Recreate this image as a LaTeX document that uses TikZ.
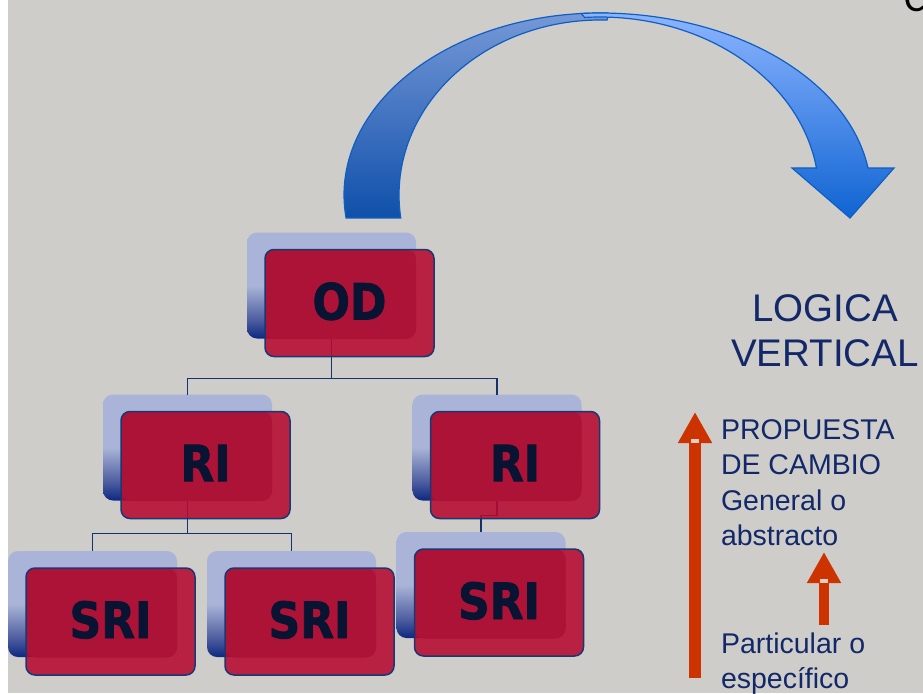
\documentclass[tikz,border=0pt]{standalone}
\usepackage{fontspec}
\usetikzlibrary{arrows.meta}
\newfontfamily\boxfont[FakeStretch=0.88, FakeBold=1.6]{DejaVu Sans}
\newfontfamily\lblfont{Liberation Sans}
\newfontfamily\titlefont{Carlito}

\definecolor{bggray}{RGB}{207,205,201}
\definecolor{backlight}{RGB}{170,180,216}
\definecolor{backmid}{RGB}{78,94,160}
\definecolor{backdark}{RGB}{14,40,128}
\definecolor{frontred}{RGB}{183,10,48}
\definecolor{overlapred}{RGB}{173,18,55}
\definecolor{frontline}{RGB}{25,55,115}
\definecolor{boxtext}{RGB}{8,20,50}
\definecolor{linkblue}{RGB}{20,50,110}
\definecolor{lbltext}{RGB}{18,40,105}
\definecolor{uparrowred}{RGB}{204,51,0}
\definecolor{notchgray}{RGB}{222,206,198}
\definecolor{bandline}{RGB}{15,95,195}
\definecolor{lbandtop}{RGB}{118,152,215}
\definecolor{lbandbot}{RGB}{15,80,170}
\definecolor{rbandtop}{RGB}{140,180,255}
\definecolor{rbandbot}{RGB}{15,100,210}

\pgfdeclareverticalshading{backfade}{100bp}{color(0bp)=(backdark); color(25bp)=(backdark); color(34bp)=(backmid); color(50bp)=(backlight); color(100bp)=(backlight)}

\tikzset{
  backbox/.style={shade, shading=backfade, rounded corners=10pt,
    minimum width=169pt, minimum height=106pt, inner sep=0pt, outer sep=0pt},
  frontbox/.style={rounded corners=9pt, draw=frontline, line width=1.5pt,
    fill=frontred, fill opacity=0.88, text opacity=1, text=boxtext,
    minimum width=169pt, minimum height=107pt, inner sep=0pt, outer sep=0pt,
    text depth=4pt,
    font=\boxfont\bfseries\fontsize{50}{60}\selectfont,
    path picture={\fill[overlapred, fill opacity=1, rounded corners=10pt]
      (path picture bounding box.north west) rectangle
      ([xshift=-18pt,yshift=17.5pt]path picture bounding box.south east);}},
  link/.style={draw=linkblue, line width=1.5pt},
  lbl/.style={text=lbltext, inner sep=0pt, outer sep=0pt},
  uparrow/.style={draw=uparrowred, line cap=butt},
  lband/.style={top color=lbandtop, bottom color=lbandbot, draw=bandline, line width=1.2pt},
  rband/.style={top color=rbandtop, bottom color=rbandbot, draw=bandline, line width=1.2pt, line join=miter},
}

\begin{document}
\begin{tikzpicture}[x=1pt, y=-1pt]
	%%%%% BACKGROUND %%%%%
	\useasboundingbox (0,0) rectangle (923,693);
	\fill[white] (0,0) rectangle (923,693);
	\fill[bggray] (8,0) rectangle (923,693);
	
	% cut title letter
	\node[font=\titlefont\fontsize{40}{48}\selectfont, anchor=base west, inner sep=0pt] (ttl) at (904,12) {C};
	
	%%%%% CURVED ARROW %%%%%
	\draw[lband] plot[domain=172.74:272, samples=60] ({600+256*cos(\x)}, {195+182*sin(\x)})
		-- plot[domain=272:172.45, samples=60] ({600+201*cos(\x)}, {195+175*sin(\x)}) -- cycle;
	\draw[rband] plot[domain=266:351.47, samples=60] ({600+271*cos(\x)}, {195+182*sin(\x)})
		-- (894,168) -- (850,218) -- (792,168)
		-- plot[domain=351.27:266, samples=60] ({600+219*cos(\x)}, {195+178*sin(\x)}) -- cycle;
	
	%%%%% TREE %%%%%
	\node[backbox] (odb) at (331.5,285.5) {};
	\node[backbox] (rilb) at (187.5,447.5) {};
	\node[backbox] (rirb) at (497,447.5) {};
	\node[backbox] (sri1b) at (92.5,604) {};
	\node[backbox] (sri2b) at (291.5,604) {};
	\node[backbox] (sri3b) at (481,585) {};
	
	\draw[link] (odb.south) -- ++(0,40) -| (rilb.north);
	\draw[link] (odb.south) -- ++(0,40) -| (rirb.north);
	\draw[link] (rilb.south) -- ++(0,33) -| (sri1b.north);
	\draw[link] (rilb.south) -- ++(0,33) -| (sri2b.north);
	\draw[link] (rirb.south) -- ++(0,15) -| (sri3b.north);
	
	\node[frontbox] (od) at (349.5,303) {OD};
	\node[frontbox] (ril) at (205.5,465) {RI};
	\node[frontbox] (rir) at (515,465) {RI};
	\node[frontbox] (sri1) at (110.5,621.5) {SRI};
	\node[frontbox] (sri2) at (309.5,621.5) {SRI};
	\node[frontbox] (sri3) at (499,602.5) {SRI};
	
	%%%%% RIGHT SIDE %%%%%
	\node[lbl, font=\lblfont\fontsize{38.5}{45}\selectfont, align=center, anchor=north] (logica) at (825,295) {LOGICA\\VERTICAL};
	\node[lbl, font=\lblfont\fontsize{28.5}{35.5}\selectfont, align=left, anchor=north west] (propuesta) at (721,419.5) {PROPUESTA\\DE CAMBIO\\General o\\abstracto};
	\node[lbl, font=\lblfont\fontsize{28.5}{35}\selectfont, align=left, anchor=north west] (particular) at (721,632.5) {Particular o\\específico};
	
	\coordinate (bigfrom) at (695,678);
	\coordinate (bigto) at (695,412);
	\draw[uparrow, line width=12pt, -{Triangle[length=31pt, width=32pt]}] (bigfrom) -- (bigto);
	\fill[notchgray] (691,439) rectangle (699,443);
	
	\coordinate (smallfrom) at (824,625);
	\coordinate (smallto) at (824,552);
	\draw[uparrow, line width=10pt, -{Triangle[length=31pt, width=32pt]}] (smallfrom) -- (smallto);
	\fill[notchgray] (820,579) rectangle (828,583);
\end{tikzpicture}
\end{document}
